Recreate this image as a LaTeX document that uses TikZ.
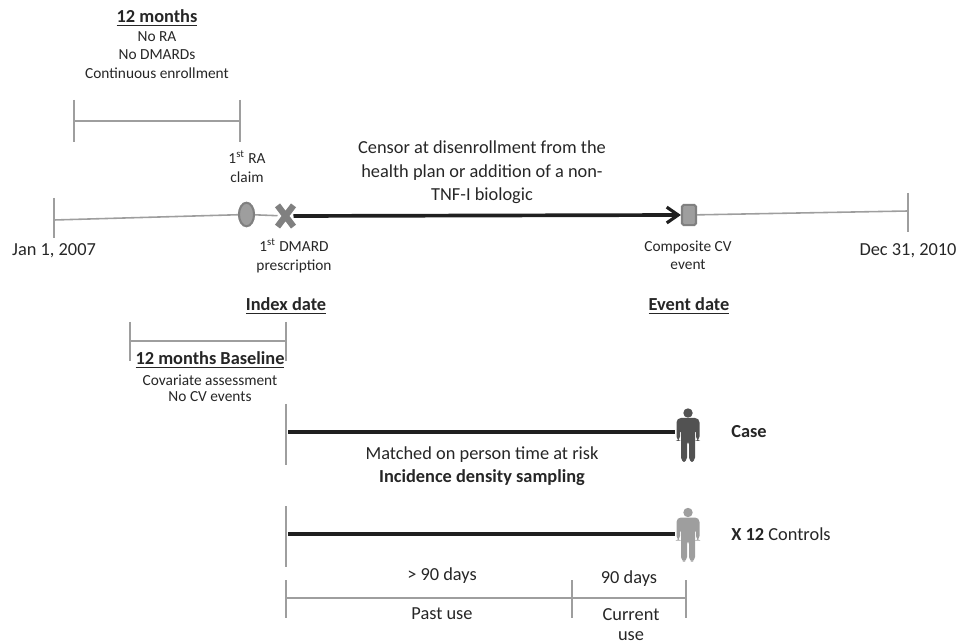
\documentclass[tikz,border=0pt]{standalone}
\usepackage{fontspec}
\setmainfont{Carlito}
\usetikzlibrary{positioning, arrows.meta, shapes.geometric, shapes.misc}
\definecolor{linegray}{gray}{0.62}
\definecolor{textdark}{gray}{0.15}
\tikzset{lbl/.style={text=textdark,font=\fontsize{10.45}{13.3}\selectfont,inner sep=0pt,align=center,yshift=-0.5pt},
         lblb/.style={lbl,font=\fontsize{10.45}{13.3}\selectfont\bfseries},
         small/.style={text=textdark,font=\fontsize{8.75}{10.4}\selectfont,inner sep=0pt,align=center,yshift=-0.5pt},
         tick/.style={draw=linegray,line width=0.65pt},
         timeline/.style={draw=linegray,line width=0.9pt},
         heavy/.style={draw=black!88,line width=2.1pt},
         person/.pic={
            \fill (0,-22) circle (4.7);
            \fill[rounded corners=2.5] (-11.5,-17) -- (11.5,-17) -- (11.5,6) -- (8,6) -- (8,-7) -- (7,-7) -- (7,27) -- (1,27) -- (1,5) -- (-1,5) -- (-1,27) -- (-7,27) -- (-7,-7) -- (-8,-7) -- (-8,6) -- (-11.5,6) -- cycle;
         },
        }

\begin{document}
\begin{tikzpicture}[x=0.02cm,y=-0.02cm]
        \useasboundingbox (0,0) rectangle (959,644);

        % wash-out bracket
        \node[lblb](washout)at(157,17){\underline{12 months}};
        \node[small](nora)at(157,36){No RA};
        \node[small](nodmards)at(157,54){No DMARDs};
        \node[small](enroll)at(157,72){Continuous enrollment};
        \coordinate(wl)at(74,121);
        \coordinate(wr)at(240,121);
        \draw[tick](wl)--(wr);
        \draw[tick](74,100)--(74,142);
        \draw[tick](240,100)--(240,142);

        % main time line
        \coordinate(start)at(54,220);
        \coordinate(stop)at(908,211);
        \node[ellipse,draw=black!50,line width=1.2pt,fill=linegray,minimum width=8.6pt,minimum height=13.4pt,inner sep=0pt](ra)at(246.5,214.5){};
        \node[cross out,draw=black!50,line width=3.6pt,minimum width=5.5pt,minimum height=8.5pt,inner sep=0pt](dmard)at(285.5,216){};
        \node[rounded corners=1pt,draw=black!50,line width=1.2pt,fill=linegray,minimum width=8pt,minimum height=11.5pt,inner sep=0pt](cv)at(689,215){};
        \draw[timeline](start)--(ra);
        \draw[timeline](ra)--(dmard);
        \draw[timeline](cv)--(stop);
        \draw[heavy,-{Straight Barb[length=6.5pt,width=9pt,line width=1.8pt]}](dmard.east)--(cv.west);
        \draw[tick](54,198)--(54,238);
        \draw[tick](908,193)--(908,232);

        \node[lbl](jan)at(54,250){Jan 1, 2007};
        \node[lbl](dec)at(908,250){Dec 31, 2010};
        \node[small](raclaim)at(247,165.5){1\textsuperscript{st} RA\\claim};
        \node[small](rx)at(294,254.5){1\textsuperscript{st} DMARD\\prescription};
        \node[small](cvlabel)at(688,254.5){Composite CV\\event};
        \node[lbl](censor)at(482,171.5){Censor at disenrollment from the\\health plan or addition of a non-\\TNF-I biologic};

        \node[lblb](index)at(286,305){\underline{Index date}};
        \node[lblb](event)at(689,305){\underline{Event date}};

        % baseline bracket
        \coordinate(bl)at(130,341);
        \coordinate(br)at(286,341);
        \draw[tick](bl)--(br);
        \draw[tick](130,322)--(130,361);
        \draw[tick](286,322)--(286,361);
        \node[lblb,fill=white,inner sep=0.5pt](base)at(210,359){\underline{12 months Baseline}};
        \node[small](cov)at(210,379){Covariate assessment};
        \node[small](nocv)at(210,396){No CV events};

        % case and controls
        \coordinate(casestart)at(288,432);
        \pic[fill=black!68](caseman)at(688,435){person};
        \coordinate(caseend)at(675,432);
        \draw[tick](286,404)--(286,465);
        \draw[heavy](casestart)--(caseend);
        \node[lblb,anchor=west](case)at(731,431){Case};
        \node[lbl](matched)at(482,454){Matched on person time at risk};
        \node[lblb](sampling)at(482,477){Incidence density sampling};

        \coordinate(ctrlstart)at(288,534);
        \pic[fill=black!38](ctrlman)at(688,534.5){person};
        \coordinate(ctrlend)at(675,534);
        \draw[tick](286,506)--(286,567);
        \draw[heavy](ctrlstart)--(ctrlend);
        \node[lbl,anchor=west](ctrl)at(731,533){\textbf{X 12} Controls};

        % exposure windows
        \coordinate(pa)at(286,598);
        \coordinate(pb)at(572,598);
        \coordinate(pc)at(686,598);
        \draw[tick](pa)--(pb)--(pc);
        \foreach \x in {286,572,686}
            \draw[tick](\x,580)--(\x,618);
        \node[lbl](over)at(442,575){> 90 days};
        \node[lbl](past)at(442,613){Past use};
        \node[lbl](days)at(629,578){90 days};
        \node[lbl,font=\fontsize{10.45}{11.6}\selectfont](cur)at(631,623.5){Current\\use};
    \end{tikzpicture}
\end{document}
